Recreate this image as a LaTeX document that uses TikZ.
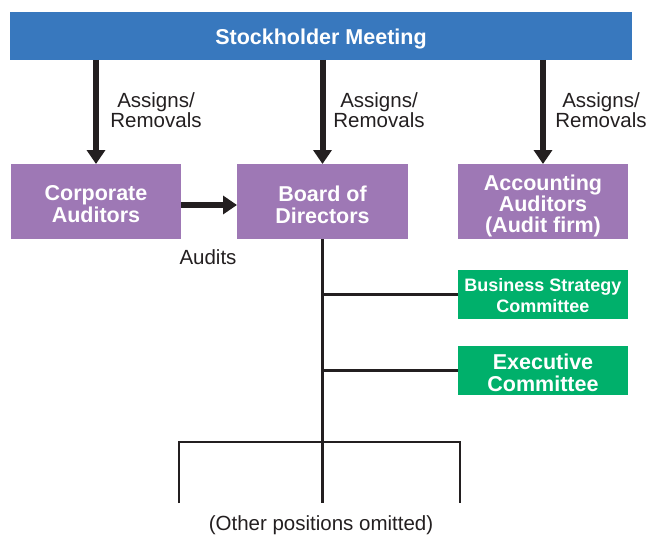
\documentclass[tikz,border=0pt]{standalone}
\usepackage{fontspec}
\setmainfont{Liberation Sans}
\usetikzlibrary{arrows.meta}
\definecolor{smblue}{HTML}{3878BE}
\definecolor{bdpurple}{HTML}{9E78B5}
\definecolor{cmgreen}{HTML}{00B06B}
\definecolor{linegray}{HTML}{231F20}
\tikzset{
  boxbase/.style={inner sep=0pt,outer sep=0pt},
  topbox/.style={boxbase,fill=smblue},
  purplebox/.style={boxbase,fill=bdpurple,minimum width=170pt,minimum height=75pt},
  greenbox/.style={boxbase,fill=cmgreen,minimum width=170pt,minimum height=49pt},
  boxtext/.style={text=white,align=center,inner sep=0pt,font=\fontsize{21.5}{22}\selectfont\bfseries},
  lbl/.style={text=linegray,font=\fontsize{20.5}{20.5}\selectfont,align=center,inner sep=0pt},
  bigarrow/.style={draw=linegray,line width=6pt,-{Triangle[width=18pt,length=14pt]}},
  thinline/.style={draw=linegray,line width=2.4pt}
}
\begin{document}
\begin{tikzpicture}[x=1pt,y=-1pt]
\useasboundingbox (0,0) rectangle (646,535);
% boxes
\node[topbox,minimum width=622pt,minimum height=48pt] (sm) at (321,36) {};
\node[purplebox] (ca) at (96,201.5) {};
\node[purplebox,minimum width=171pt] (bd) at (322.5,201.5) {};
\node[purplebox] (aa) at (543,201.5) {};
\node[greenbox] (bs) at (543,294.5) {};
\node[greenbox] (ex) at (543,370.5) {};
% box texts
\node[boxtext] (smt) at ([yshift=-3pt]sm.center) {Stockholder Meeting};
\node[boxtext] (cat) at ([yshift=-3pt]ca.center) {Corporate\\Auditors};
\node[boxtext] (bdt) at ([yshift=-3pt]bd.center) {Board of\\Directors};
\node[boxtext,font=\fontsize{21.5}{21}\selectfont\bfseries] (aat) at ([yshift=-4pt]aa.center) {Accounting\\Auditors\\(Audit firm)};
\node[boxtext,font=\fontsize{18}{21}\selectfont\bfseries] (bst) at ([yshift=-1pt]bs.center) {Business Strategy\\Committee};
\node[boxtext] (ext) at ([yshift=-2pt]ex.center) {Executive\\Committee};
% arrows
\draw[bigarrow] (sm.south -| ca) -- (ca.north);
\draw[bigarrow] (sm.south -| bd) -- (bd.north);
\draw[bigarrow] (sm.south -| aa) -- (aa.north);
\draw[bigarrow] (ca.east |- 0,205) -- (bd.west |- 0,205);
% labels
\node[lbl] (l1) at (156,110) {Assigns/\\Removals};
\node[lbl] (l2) at (379,110) {Assigns/\\Removals};
\node[lbl] (l3) at (601,110) {Assigns/\\Removals};
\node[lbl] (au) at (208,257) {Audits};
% tree
\coordinate (bot) at (322.5,503);
\coordinate (bl) at (179,442);
\coordinate (br) at (460,442);
\coordinate (blb) at (179,503);
\coordinate (brb) at (460,503);
\draw[thinline] (bd.south) -- (bot);
\draw[thinline] (bd.south |- bs) -- (bs.west);
\draw[thinline] (bd.south |- ex) -- (ex.west);
\draw[thinline] (blb) -- (bl) -- (br) -- (brb);
\node[lbl] (op) at (321,525) {(Other positions omitted)};
\end{tikzpicture}
\end{document}
